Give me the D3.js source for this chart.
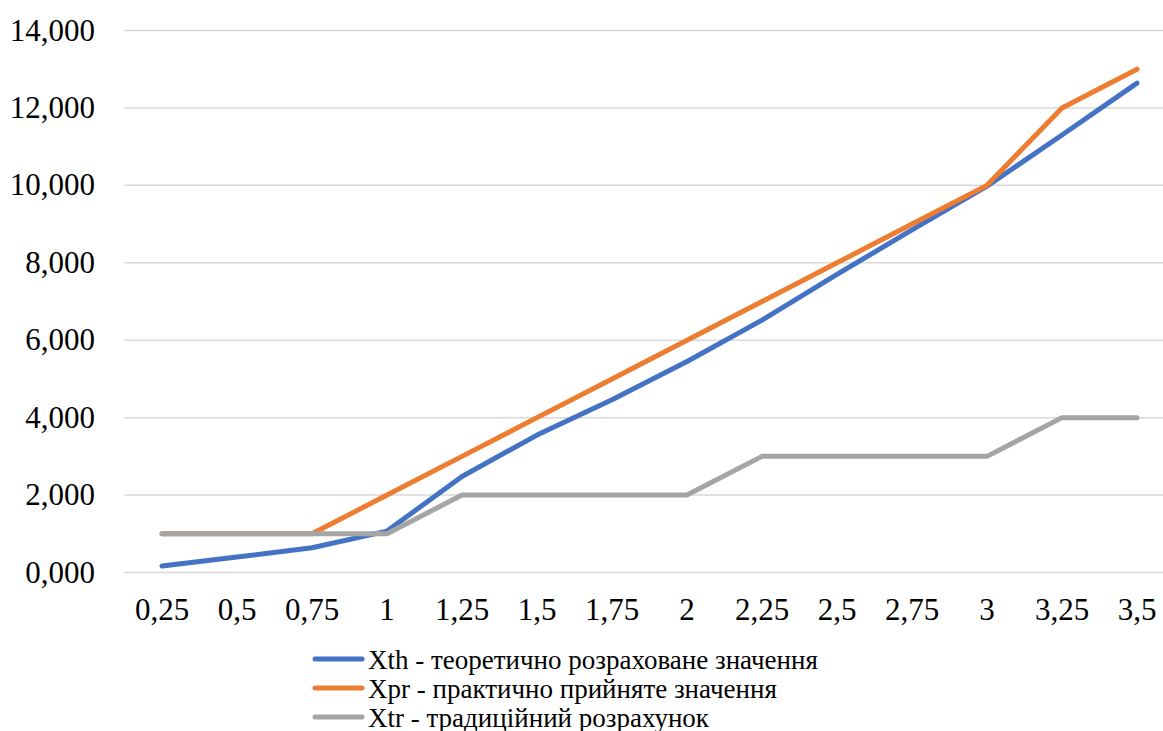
<!DOCTYPE html>
<html>
<head>
<meta charset="utf-8">
<script src="https://cdn.jsdelivr.net/npm/d3@7"></script>
<style>
html,body{margin:0;padding:0;background:#fff;overflow:hidden;}
text{font-family:"Liberation Serif","Times New Roman",serif;fill:#000;}
</style>
</head>
<body>
<svg id="chart" width="1163" height="731"></svg>
<script>
const categories = ["0,25","0,5","0,75","1","1,25","1,5","1,75","2","2,25","2,5","2,75","3","3,25","3,5"];
const xthValues = [0.17,0.40,0.64,1.07,2.48,3.55,4.46,5.45,6.52,7.7,8.85,9.98,11.3,12.64];
const xprValues = [1,1,1,2,3,4,5,6,7,8,9,10,12,13];
const xtrValues = [1,1,1,1,2,2,2,2,3,3,3,3,4,4];
const yTicks = [0,2,4,6,8,10,12,14];
const seriesNames = ["Xth - теоретично розраховане значення","Xpr - практично прийняте значення","Xtr - традиційний розрахунок"];
const seriesColors = ["#4472C4","#ED7D31","#A5A5A5"];

const svg = d3.select("#chart");
const x = d3.scaleBand().domain(categories).range([124.5,1174.5]);
const y = d3.scaleLinear().domain([0,14]).range([572.5,30.5]);
const fmt = v => d3.format(",.3f")(v).replace(".",",");

// gridlines
svg.append("g").selectAll("line").data(yTicks).join("line")
  .attr("x1",124).attr("x2",1175)
  .attr("y1",d=>y(d)).attr("y2",d=>y(d))
  .attr("stroke","#D9D9D9").attr("stroke-width",1.5);

// y labels
svg.append("g").selectAll("text").data(yTicks).join("text")
  .attr("x",95).attr("y",d=>y(d)+10)
  .attr("text-anchor","end").attr("font-size","31px")
  .text(d=>fmt(d));

// x labels
svg.append("g").selectAll("text").data(categories).join("text")
  .attr("x",d=>x(d)+x.bandwidth()/2).attr("y",620)
  .attr("text-anchor","middle").attr("font-size","31px")
  .text(d=>d);

const line = d3.line().x((d,i)=>x(categories[i])+x.bandwidth()/2).y(d=>y(d));
const data = [xthValues,xprValues,xtrValues];
data.forEach((vals,i)=>{
  svg.append("path").datum(vals)
    .attr("d",line).attr("fill","none")
    .attr("stroke",seriesColors[i]).attr("stroke-width",5)
    .attr("stroke-linecap","round").attr("stroke-linejoin","round");
});

// legend
const lg = svg.append("g");
seriesNames.forEach((n,i)=>{
  const yy = 659 + i*29;
  lg.append("line").attr("x1",315).attr("x2",362).attr("y1",yy).attr("y2",yy)
    .attr("stroke",seriesColors[i]).attr("stroke-width",5).attr("stroke-linecap","round");
  lg.append("text").attr("x",368).attr("y",yy+9.5)
    .attr("font-size","27px").text(n);
});
</script>
</body>
</html>
